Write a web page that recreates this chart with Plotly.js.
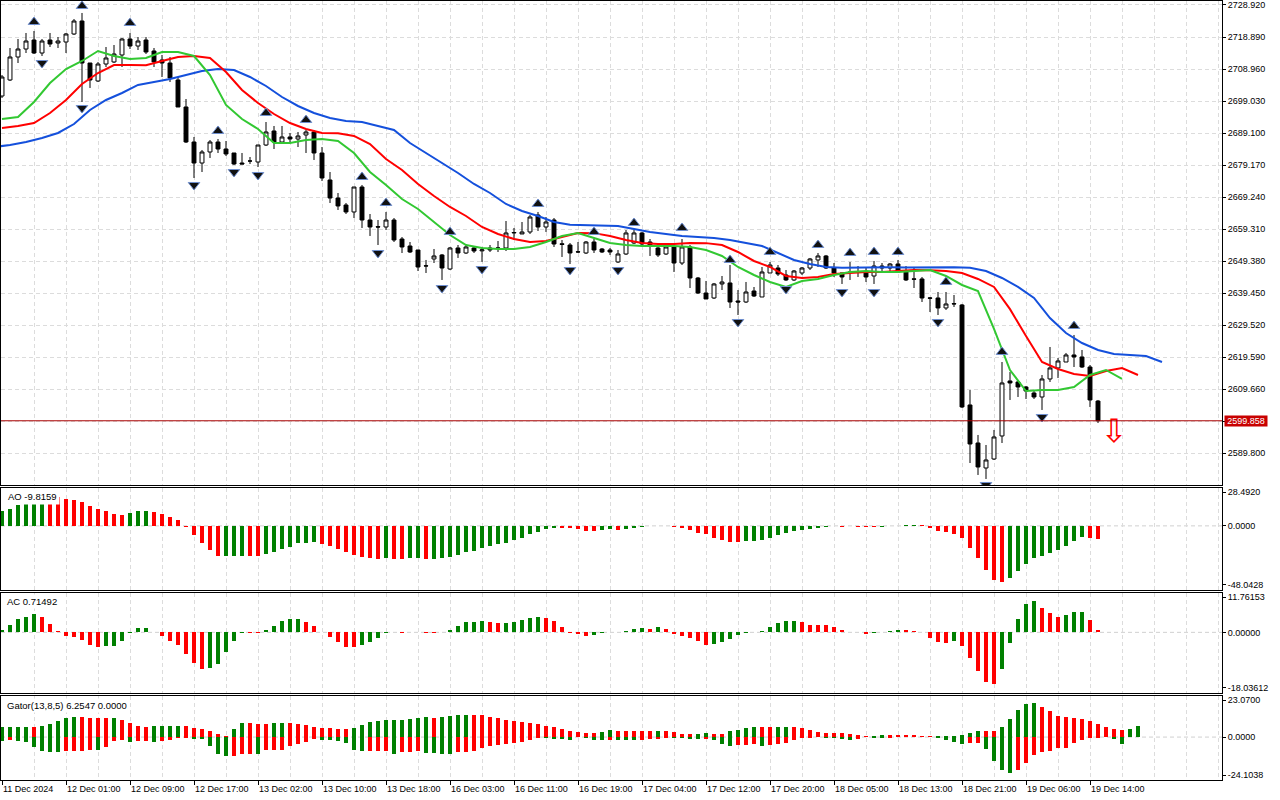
<!DOCTYPE html>
<html><head><meta charset="utf-8">
<script src="https://cdn.plot.ly/plotly-3.0.1.min.js"></script>
<style>html,body{margin:0;padding:0;background:#fff;}#chart{width:1280px;height:800px;}</style>
</head><body><div id="chart"></div>
<script>
// ---------- data ----------
const timeLabels = ['11 Dec 2024','12 Dec 01:00','12 Dec 09:00','12 Dec 17:00','13 Dec 02:00','13 Dec 10:00',
  '13 Dec 18:00','16 Dec 03:00','16 Dec 11:00','16 Dec 19:00','17 Dec 04:00','17 Dec 12:00','17 Dec 20:00',
  '18 Dec 05:00','18 Dec 13:00','18 Dec 21:00','19 Dec 06:00','19 Dec 14:00'];
const labelBars = [0,8,16,24,32,40,48,56,64,72,80,88,96,104,112,120,128,136];

const open = [2700.67,2705.64,2712.78,2715.26,2718.05,2714.02,2718.05,2717.12,2717.43,2719.92,
2723.95,2710.91,2705.33,2710.60,2711.23,2713.40,2718.36,2716.19,2718.05,2714.64,
2711.85,2710.91,2705.64,2697.26,2686.39,2679.87,2683.29,2686.39,2684.22,2682.98,
2679.87,2680.49,2680.18,2685.46,2689.81,2686.39,2687.95,2687.32,2688.57,2689.50,
2682.98,2674.60,2669.01,2666.84,2664.67,2672.42,2662.18,2660.10,2660.01,2662.18,
2656.28,2654.11,2652.87,2647.90,2650.08,2651.32,2646.97,2653.49,2651.94,2653.49,
2652.60,2653.49,2653.50,2653.49,2658.15,2657.84,2658.46,2663.73,2660.01,2662.18,
2654.80,2654.42,2652.25,2651.94,2655.35,2653.18,2652.87,2649.15,2651.63,2655.04,
2658.15,2655.35,2653.49,2651.63,2653.80,2648.83,2653.80,2644.18,2639.52,2637.97,
2642.32,2642.63,2637.04,2636.73,2640.14,2638.28,2645.73,2647.28,2645.11,2643.56,
2645.73,2647.28,2649.77,2651.01,2647.28,2645.73,2646.04,2645.90,2646.04,2644.80,
2647.90,2647.28,2648.52,2646.04,2643.90,2643.87,2638.00,2637.97,2634.87,2636.10,
2635.80,2604.76,2592.96,2585.20,2587.99,2595.14,2612.21,2611.90,2610.35,2608.48,
2607.24,2612.83,2616.25,2618.10,2620.28,2619.66,2616.55,2605.99];
const high = [2707.19,2715.57,2718.36,2720.23,2720.85,2718.36,2720.23,2718.98,2720.23,2724.57,
2726.44,2710.91,2711.23,2715.88,2716.50,2718.67,2720.23,2718.98,2718.98,2715.57,
2713.40,2712.78,2706.57,2699.74,2687.95,2683.91,2687.01,2687.32,2686.70,2682.98,
2682.98,2681.74,2685.46,2692.60,2691.36,2691.36,2689.19,2689.50,2690.12,2690.12,
2684.84,2677.08,2670.56,2667.46,2672.42,2673.05,2664.04,2662.18,2664.67,2662.80,
2656.90,2655.35,2652.87,2649.77,2653.18,2651.63,2653.80,2654.42,2654.42,2654.11,
2653.80,2654.42,2655.66,2661.87,2659.70,2661.56,2663.73,2664.67,2663.11,2662.80,
2655.97,2655.04,2655.35,2655.66,2656.28,2653.49,2653.49,2652.87,2659.08,2659.08,
2658.46,2656.28,2653.80,2654.11,2654.42,2656.28,2654.42,2644.49,2643.25,2642.63,
2644.80,2648.21,2640.45,2642.94,2641.38,2647.59,2649.15,2648.21,2646.66,2646.66,
2647.59,2650.39,2651.94,2651.32,2648.83,2645.73,2649.15,2647.90,2647.59,2649.46,
2648.83,2648.83,2649.77,2647.90,2647.59,2644.49,2638.28,2639.83,2639.83,2638.90,
2636.11,2609.41,2595.45,2592.34,2597.00,2618.10,2614.99,2612.52,2610.66,2609.41,
2614.07,2622.76,2619.35,2620.90,2626.49,2621.83,2617.17,2606.31];
const low = [2700.05,2705.33,2710.91,2714.02,2713.71,2713.09,2715.88,2715.57,2714.02,2719.61,
2698.81,2703.16,2705.02,2709.67,2710.91,2709.67,2715.26,2714.95,2713.71,2709.67,
2706.57,2705.02,2697.26,2686.08,2675.22,2677.08,2681.43,2682.98,2682.05,2679.25,
2679.56,2679.56,2678.63,2685.15,2684.22,2686.08,2686.08,2684.84,2682.98,2680.81,
2674.29,2667.46,2665.29,2664.04,2662.80,2659.70,2657.22,2654.42,2659.08,2655.35,
2651.94,2651.94,2646.35,2645.73,2648.83,2643.56,2646.66,2650.39,2651.63,2651.94,
2649.15,2652.25,2652.25,2652.56,2655.97,2657.84,2657.84,2658.77,2658.46,2653.80,
2650.70,2648.52,2651.94,2651.63,2651.94,2651.94,2651.32,2648.83,2651.32,2654.73,
2654.42,2651.01,2650.70,2651.32,2646.04,2648.21,2641.07,2639.21,2637.66,2637.66,
2640.45,2634.87,2632.69,2636.42,2638.28,2638.28,2645.73,2644.80,2643.25,2643.25,
2645.11,2646.66,2647.59,2646.97,2644.49,2642.32,2643.56,2644.49,2642.94,2642.32,
2646.04,2646.04,2645.73,2643.25,2641.07,2636.73,2633.62,2632.69,2634.25,2635.18,
2603.83,2586.75,2583.03,2581.79,2587.69,2592.96,2606.31,2607.24,2606.62,2606.62,
2603.21,2611.90,2613.14,2618.10,2616.55,2616.25,2604.14,2599.17];
const close = [2706.57,2712.78,2715.26,2717.74,2714.02,2717.74,2716.81,2717.74,2719.92,2723.95,
2710.91,2705.64,2710.60,2712.47,2713.71,2718.36,2716.19,2717.74,2714.33,2711.23,
2710.91,2706.26,2697.26,2686.39,2679.87,2683.29,2686.39,2684.22,2682.67,2679.56,
2679.56,2680.49,2685.46,2689.50,2686.39,2687.95,2687.32,2688.26,2689.50,2682.98,
2675.22,2669.01,2666.53,2664.67,2672.42,2662.18,2660.01,2660.00,2662.18,2655.97,
2653.80,2652.25,2647.59,2647.95,2651.01,2647.28,2653.49,2651.94,2653.80,2652.56,
2652.90,2652.87,2653.45,2658.15,2658.30,2658.46,2663.11,2660.01,2661.56,2654.73,
2654.60,2651.94,2652.30,2655.35,2652.87,2652.25,2652.25,2651.63,2658.15,2658.15,
2654.73,2654.11,2651.32,2653.80,2648.83,2653.80,2644.18,2639.52,2637.66,2642.32,
2642.94,2636.73,2636.73,2639.83,2638.59,2646.04,2648.21,2645.42,2643.56,2646.35,
2647.28,2650.08,2651.01,2647.28,2645.73,2644.49,2645.90,2646.00,2644.49,2647.90,
2647.28,2648.52,2646.04,2643.56,2643.80,2637.97,2637.90,2634.87,2636.11,2636.20,
2604.14,2592.65,2585.51,2587.69,2594.83,2611.59,2611.59,2610.35,2609.10,2607.24,
2612.83,2616.25,2618.42,2620.28,2619.66,2616.55,2606.31,2599.858];

// Alligator: jaw read at odd bars (-1,1,...,145), teeth and lips at even bars (0,2,...)
const jaw = [2684.84,2685.46,2686.39,2687.63,2689.19,2691.98,2696.33,2699.43,2701.60,2704.09,
2705.02,2705.95,2707.19,2708.43,2709.05,2708.74,2706.57,2703.78,2700.36,2697.57,
2695.39,2693.84,2692.91,2692.60,2691.36,2690.12,2686.08,2682.98,2679.87,2676.77,
2673.36,2670.56,2667.15,2664.98,2663.42,2661.56,2660.70,2660.60,2660.55,2660.32,
2659.39,2658.46,2657.84,2657.22,2656.91,2656.59,2655.97,2655.04,2654.11,2651.94,
2649.77,2648.52,2647.59,2647.35,2647.45,2647.55,2647.50,2647.45,2647.50,2647.55,
2647.50,2647.35,2646.35,2644.18,2641.39,2637.97,2631.76,2627.11,2624.00,2621.83,
2620.59,2620.28,2619.97,2618.10];
const teeth = [2690.74,2691.36,2692.29,2695.39,2699.43,2704.40,2707.81,2710.29,2710.30,2710.20,
2711.54,2712.78,2713.09,2712.47,2708.12,2702.53,2698.50,2695.08,2692.29,2690.43,
2689.19,2689.10,2688.26,2685.77,2681.12,2677.70,2673.36,2669.63,2666.22,2663.42,
2660.01,2657.84,2656.28,2655.35,2655.66,2656.91,2658.15,2658.10,2657.22,2655.97,
2655.04,2654.73,2654.70,2655.04,2655.00,2654.42,2652.25,2649.46,2647.59,2644.80,
2644.18,2644.49,2645.42,2645.73,2646.04,2646.00,2646.35,2646.66,2646.60,2646.35,
2645.73,2643.87,2641.39,2634.50,2626.17,2618.10,2615.93,2614.38,2613.76,2615.31,
2616.25,2614.07];
const lips = [2693.53,2694.15,2698.81,2704.71,2709.05,2711.54,2714.64,2713.09,2712.16,2712.47,
2714.33,2714.30,2713.09,2707.19,2697.88,2693.53,2690.43,2686.08,2686.10,2687.01,
2687.32,2686.70,2682.98,2677.08,2673.05,2668.70,2665.60,2661.56,2657.53,2654.42,
2653.49,2653.18,2653.20,2653.80,2655.35,2657.22,2658.15,2656.59,2655.04,2654.42,
2654.11,2654.10,2654.10,2653.80,2652.87,2651.01,2647.59,2645.11,2642.94,2641.39,
2643.25,2643.87,2645.11,2646.04,2646.35,2646.04,2646.00,2646.35,2646.66,2644.80,
2642.01,2640.14,2628.40,2615.62,2609.10,2609.41,2609.40,2610.35,2614.07,2615.62,
2612.83];

const fracUpBars = [4,10,16,27,33,38,45,48,56,67,74,79,85,91,96,102,106,109,112,118,125,134];
const fracUpVals = [2723.64,2728.60,2723.33,2689.81,2695.40,2693.22,2675.53,2667.46,2658.46,2667.15,2658.46,
  2661.25,2659.70,2649.77,2652.25,2654.42,2651.94,2652.25,2652.25,2642.94,2621.21,2629.28];
const fracDnBars = [5,10,24,29,32,47,55,60,71,77,92,98,105,109,117,123,130];
const fracDnVals = [2710.91,2696.95,2673.05,2677.08,2676.15,2651.94,2641.07,2646.97,2646.66,2646.66,
  2630.52,2640.76,2639.83,2639.83,2630.52,2579.93,2601.03];

const sellBar = [139];
const sellPrice = [2595.6];

const priceTicks = [2728.92,2718.89,2708.96,2699.03,2689.10,2679.17,2669.24,2659.31,2649.38,2639.45,
  2629.52,2619.59,2609.66,2599.73,2589.80];

const ao = [10.95,12.48,15.54,18.5,21.0,22.75,22.3,21.65,20.12,19.10,
17.83,14.77,12.48,10.95,8.91,7.90,9.68,10.95,11.10,10.19,
8.91,6.37,4.08,-0.8,-7.13,-13.24,-18.08,-22.9,-22.7,-22.6,
-22.4,-22.6,-22.7,-20.9,-19.6,-17.3,-15.8,-12.9,-12.7,-12.5,
-13.5,-15.0,-17.3,-19.6,-21.9,-23.4,-24.5,-24.7,-24.2,-24.7,
-25.0,-24.2,-24.0,-25.0,-24.7,-24.2,-23.4,-21.6,-19.6,-18.6,
-16.6,-14.8,-14.0,-12.7,-11.0,-8.9,-6.4,-4.3,-2.5,-1.3,
-1.5,-1.8,-2.5,-3.6,-3.7,-3.3,-2.5,-2.8,-2.3,-1.8,
-0.8,-0.3,0.15,-0.2,-1.0,-1.3,-2.8,-5.1,-6.4,-8.9,
-10.4,-12.0,-12.2,-11.7,-11.5,-10.95,-9.4,-7.1,-5.6,-4.1,
-3.3,-2.3,-1.5,-0.5,-0.3,-0.5,-0.15,-0.5,-1.0,-1.2,
-0.6,-0.3,-0.05,0.7,0.9,0.3,-1.8,-4.1,-4.8,-6.4,
-9.4,-16.6,-23.9,-33.1,-40.8,-42.3,-39.5,-33.9,-28.8,-23.9,
-22.4,-20.1,-18.1,-15.0,-11.7,-8.7,-8.9,-9.8159];
const ac = [0.8,2.09,3.88,4.68,5.38,4.48,2.39,0.3,-1.2,-1.49,
-2.39,-3.78,-4.48,-4.08,-4.0,-2.69,-0.05,1.2,1.25,0.1,
-1.2,-2.69,-3.78,-6.57,-9.16,-11.06,-10.76,-9.46,-5.98,-2.69,
-0.2,-0.25,-0.3,0.8,1.79,3.29,3.88,3.9,2.99,1.89,
0.2,-1.39,-2.99,-4.28,-4.3,-3.7,-3.0,-1.7,-0.1,0.05,
-0.2,0.2,0.25,-0.2,-0.25,0.2,0.8,2.0,3.0,3.05,
3.3,3.0,2.7,2.8,3.0,3.6,4.2,4.5,4.2,3.3,
1.5,-0.2,-0.5,-1.2,-0.8,-0.1,0.2,0.1,0.5,0.9,
1.2,1.1,1.5,0.9,-0.6,-1.1,-1.7,-2.7,-3.7,-3.5,
-3.0,-2.0,-0.8,-0.2,0.05,0.3,1.5,2.7,3.3,3.35,
3.0,2.2,2.15,2.1,1.7,0.8,0.2,0.0,-0.4,-0.3,
0.1,0.4,0.8,0.75,0.5,0.0,-1.8,-3.0,-3.05,-2.7,
-4.2,-7.8,-11.6,-14.9,-15.4,-11.1,-3.3,3.9,8.4,9.3,
7.2,5.7,4.5,5.1,6.0,6.1,3.6,0.71492];
const gatorUp = [5.61,5.65,5.68,5.72,5.60,6.36,7.29,9.16,10.66,11.22,
11.1,10.66,10.55,10.45,10.6,9.72,7.85,6.17,5.61,6.17,
6.2,6.25,6.3,6.2,5.05,4.49,3.18,1.68,0.56,4.3,
7.9,7.67,7.6,7.55,8.04,8.1,7.7,7.4,6.55,5.8,
5.05,5.0,4.68,4.6,5.05,6.9,8.3,8.8,9.35,9.4,
9.45,10.29,10.66,11.22,10.66,11.22,11.78,12.34,12.4,12.3,
12.25,11.22,10.66,9.54,8.98,8.42,7.85,7.29,6.17,5.61,
4.49,3.37,2.81,2.24,2.2,2.81,3.93,3.37,3.3,3.25,
3.2,3.15,3.3,3.2,2.81,1.68,1.6,1.7,2.24,2.0,
1.5,3.37,3.93,5.05,5.61,5.55,5.5,5.58,5.65,5.6,
5.05,3.93,2.81,2.24,2.2,2.15,1.68,1.12,0.56,0.6,
1.12,1.1,1.05,1.0,0.95,0.56,0.5,0.55,0.6,0.65,
1.12,2.24,3.37,3.3,3.25,5.61,10.10,15.15,18.51,19.07,
16.83,14.59,11.78,11.22,10.66,10.10,8.98,7.29,5.61,4.49,
3.93,4.49,6.2547];
const gatorDown = [2.43,1.87,2.43,2.99,5.80,8.04,8.60,8.65,8.04,8.0,
7.95,7.11,7.2,5.42,2.43,1.50,2.6,2.43,2.35,2.99,
2.43,1.5,0.5,0.3,1.12,1.15,5.24,9.35,10.85,10.5,
9.35,9.3,9.4,7.11,7.05,7.0,4.86,3.74,2.81,1.3,
1.5,1.87,2.06,3.37,7.11,8.04,7.95,7.67,7.6,9.35,
8.23,8.2,7.67,8.79,8.85,9.35,9.4,8.23,8.2,7.67,
5.98,4.86,4.30,3.74,3.18,2.62,1.50,0.37,0.56,0.94,
1.12,1.50,0.2,0.56,1.5,1.55,1.45,1.5,1.55,1.6,
1.5,1.2,0.8,0.5,0.6,0.7,0.95,1.0,0.8,1.5,
3.74,4.86,4.3,4.25,3.74,4.86,4.30,3.74,3.18,1.50,
0.56,0.37,0.19,0.37,0.75,0.94,1.50,0.94,0.2,0.37,
0.38,0.36,0.2,0.21,0.22,0.2,0.19,0.37,1.5,2.62,
3.74,3.18,3.1,6.55,13.28,18.33,20.0,18.33,14.40,9.91,
8.23,7.67,5.98,5.9,3.18,1.50,0.75,0.7,0.19,0.94,
3.74];

const aoRange = [-48.0428, 28.492];
const acRange = [-18.03612, 11.76153];
const gatorRange = [-24.1038, 23.07];
const priceRange = [2579.92, 2730.16];

// ---------- layout helpers ----------
const W = 1280, H = 800, M = {l: 1, r: 58, t: 1, b: 20};
const plotH = H - M.t - M.b;
const frac = px => (H - M.b - px) / plotH;
const GREEN = '#008000', RED = '#ff0000';
const FONT = 'Liberation Sans, Arial, sans-serif';
const GRID = {gridcolor: '#dcdcdc', griddash: '4px,3px', gridwidth: 1};

function trendColors(vals) {
  let c = GREEN;
  return vals.map((v, i) => {
    if (i > 0) { if (v > vals[i - 1]) c = GREEN; else if (v < vals[i - 1]) c = RED; }
    return c;
  });
}
const idx = arr => arr.map((_, i) => i);

const domMain = [frac(485), 1];
const domAO = [frac(589.7), frac(488)];
const domAC = [frac(692.7), frac(593)];
const domG = [0, frac(696)];

function edgeTicks(range, dom, dec) {
  const px = (dom[1] - dom[0]) * plotH;
  const u = (range[1] - range[0]) / px;
  return {
    tickvals: [range[1] - 4 * u, 0, range[0] + 5 * u],
    ticktext: [range[1].toFixed(dec), (0).toFixed(dec), range[0].toFixed(dec)]
  };
}

const bars = idx(close);
const last = close.length - 1;

// ---------- traces ----------
const traces = [];
traces.push({
  type: 'candlestick', x: bars, open: open, high: high, low: low, close: close,
  xaxis: 'x', yaxis: 'y', whiskerwidth: 0,
  increasing: {line: {color: '#000', width: 1}, fillcolor: '#ffffff'},
  decreasing: {line: {color: '#000', width: 1}, fillcolor: '#000000'},
  hoverinfo: 'skip'
});
traces.push({type: 'scatter', mode: 'lines', x: jaw.map((_, i) => 2 * i - 1), y: jaw,
  line: {color: '#1450dc', width: 2}, xaxis: 'x', yaxis: 'y'});
traces.push({type: 'scatter', mode: 'lines', x: teeth.map((_, i) => 2 * i), y: teeth,
  line: {color: '#ff0000', width: 2}, xaxis: 'x', yaxis: 'y'});
traces.push({type: 'scatter', mode: 'lines', x: lips.map((_, i) => 2 * i), y: lips,
  line: {color: '#32c832', width: 2}, xaxis: 'x', yaxis: 'y'});
traces.push({type: 'scatter', mode: 'markers', x: fracUpBars, y: fracUpVals, xaxis: 'x', yaxis: 'y',
  marker: {symbol: 'triangle-up', size: 10, color: '#111111', line: {color: '#6f8fd0', width: 1}}});
traces.push({type: 'scatter', mode: 'markers', x: fracDnBars, y: fracDnVals, xaxis: 'x', yaxis: 'y',
  marker: {symbol: 'triangle-down', size: 10, color: '#111111', line: {color: '#6f8fd0', width: 1}}});
traces.push({type: 'scatter', mode: 'text', x: sellBar, y: sellPrice, text: ['\u21E9'], xaxis: 'x', yaxis: 'y',
  textposition: 'middle center', textfont: {family: 'DejaVu Sans', size: 32, color: '#ff0000'}, cliponaxis: false});

traces.push({type: 'bar', x: bars, y: ao, width: 0.5, xaxis: 'x2', yaxis: 'y2',
  marker: {color: trendColors(ao), line: {width: 0}}});
traces.push({type: 'bar', x: bars, y: ac, width: 0.5, xaxis: 'x3', yaxis: 'y3',
  marker: {color: trendColors(ac), line: {width: 0}}});
traces.push({type: 'bar', x: idx(gatorUp), y: gatorUp, width: 0.5, xaxis: 'x4', yaxis: 'y4',
  marker: {color: trendColors(gatorUp), line: {width: 0}}});
traces.push({type: 'bar', x: idx(gatorDown), y: gatorDown.map(v => -v), width: 0.5, xaxis: 'x4', yaxis: 'y4',
  marker: {color: trendColors(gatorDown), line: {width: 0}}});

// ---------- layout ----------
const tickFont = {family: FONT, size: 9, color: '#000'};
const xBase = {
  range: [-0.125, 152.5], tickmode: 'array', tickvals: labelBars, ticktext: timeLabels,
  showgrid: true, ...GRID,
  minor: {tick0: 0, dtick: 4, showgrid: true, ...GRID},
  showline: true, mirror: true, linecolor: '#000', linewidth: 1, zeroline: false, fixedrange: true
};
const yBase = {side: 'right', showline: true, mirror: true, linecolor: '#000', linewidth: 1,
  zeroline: false, ticks: 'outside', ticklen: 3, tickcolor: '#000', tickfont: tickFont, fixedrange: true};

const aoT = edgeTicks(aoRange, domAO, 4);
const acT = edgeTicks(acRange, domAC, 5);
const gT = edgeTicks(gatorRange, domG, 4);

const zeroLine = (ax) => ({type: 'line', xref: 'x' + ax + ' domain', x0: 0, x1: 1, yref: 'y' + ax, y0: 0, y1: 0,
  line: {color: '#d0d0d0', width: 1, dash: '4px,3px'}, layer: 'below'});

const layout = {
  width: W, height: H, margin: M, paper_bgcolor: '#fff', plot_bgcolor: '#fff',
  showlegend: false, hovermode: false, barmode: 'overlay', bargap: 0,
  font: {family: FONT, size: 9, color: '#000'},
  xaxis: {...xBase, anchor: 'y', showticklabels: false, ticks: '', rangeslider: {visible: false}},
  xaxis2: {...xBase, anchor: 'y2', matches: 'x', showticklabels: false, ticks: ''},
  xaxis3: {...xBase, anchor: 'y3', matches: 'x', showticklabels: false, ticks: ''},
  xaxis4: {...xBase, anchor: 'y4', matches: 'x', showticklabels: true, ticks: 'outside', ticklen: 4,
    tickcolor: '#000', ticklabelposition: 'outside right', tickfont: tickFont},
  yaxis: {...yBase, anchor: 'x', domain: domMain, range: priceRange, tickmode: 'array',
    tickvals: priceTicks, ticktext: priceTicks.map(v => v.toFixed(3)), showgrid: true, ...GRID},
  yaxis2: {...yBase, anchor: 'x2', domain: domAO, range: aoRange, tickmode: 'array',
    tickvals: aoT.tickvals, ticktext: aoT.ticktext, showgrid: false},
  yaxis3: {...yBase, anchor: 'x3', domain: domAC, range: acRange, tickmode: 'array',
    tickvals: acT.tickvals, ticktext: acT.ticktext, showgrid: false},
  yaxis4: {...yBase, anchor: 'x4', domain: domG, range: gatorRange, tickmode: 'array',
    tickvals: gT.tickvals, ticktext: gT.ticktext, showgrid: false},
  shapes: [
    zeroLine('2'), zeroLine('3'), zeroLine('4'),
    {type: 'line', xref: 'x domain', x0: 0, x1: 1, yref: 'y', y0: close[last], y1: close[last],
      line: {color: '#a80000', width: 1}}
  ],
  annotations: [
    {xref: 'paper', x: 0, xshift: 4, xanchor: 'left', yref: 'paper', y: frac(496.3), yanchor: 'middle',
      text: 'AO ' + ao[ao.length - 1].toFixed(4), showarrow: false, bgcolor: '#fff', borderpad: 2,
      font: {family: FONT, size: 9.5, color: '#000'}},
    {xref: 'paper', x: 0, xshift: 4, xanchor: 'left', yref: 'paper', y: frac(601.5), yanchor: 'middle',
      text: 'AC ' + ac[ac.length - 1].toFixed(5), showarrow: false, bgcolor: '#fff', borderpad: 1,
      font: {family: FONT, size: 9.5, color: '#000'}},
    {xref: 'paper', x: 0, xshift: 4, xanchor: 'left', yref: 'paper', y: frac(705), yanchor: 'middle',
      text: 'Gator(13,8,5) ' + gatorUp[gatorUp.length - 1].toFixed(4) + ' ' + (0).toFixed(4),
      showarrow: false, bgcolor: '#fff', borderpad: 1, font: {family: FONT, size: 9.5, color: '#000'}},
    {xref: 'paper', x: 1, xanchor: 'left', xshift: 2, yref: 'y', y: close[last], yanchor: 'middle',
      text: close[last].toFixed(3), showarrow: false, bgcolor: '#c80000', width: 42, height: 10,
      borderpad: 0, font: {family: FONT, size: 9, color: '#fff'}}
  ]
};

Plotly.newPlot('chart', traces, layout, {staticPlot: true, displayModeBar: false});
</script>
</body></html>
